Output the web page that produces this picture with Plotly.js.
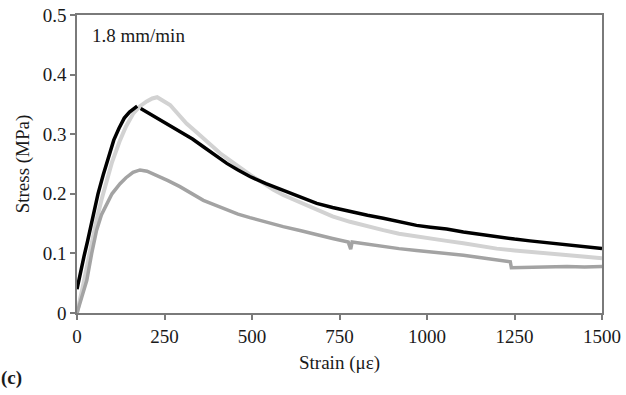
<!DOCTYPE html>
<html>
<head>
<meta charset="utf-8">
<script src="https://cdn.plot.ly/plotly-3.0.1.min.js"></script>
<style>
html,body{margin:0;padding:0;background:#fff;}
#wrap{position:relative;width:626px;height:395px;}
.lbl{position:absolute;font-family:'Liberation Serif';font-size:19px;line-height:22px;color:#1a1a1a;white-space:nowrap;z-index:5;}
#rate{left:92px;top:25px;}
#panel{left:1px;top:367px;font-weight:bold;}
#chart{position:absolute;left:0;top:0;width:626px;height:395px;}
</style>
</head>
<body>
<div id="wrap">
<div class="lbl" id="rate">1.8 mm/min</div>
<div class="lbl" id="panel">(c)</div>
<div id="chart"></div>
</div>
<script>
// Specimen curves (strain in microstrain, stress in MPa)
const blackX = [0,10,20,30,45,60,75,90,105,120,135,150,165,172,null,182,200,228,260,294,330,361,400,428,460,494,540,589,640,685,730,780,830,875,920,970,1010,1056,1104,1150,1199,1250,1294,1340,1390,1440,1500];
const blackY = [0.04,0.07,0.095,0.12,0.16,0.2,0.232,0.26,0.29,0.31,0.327,0.337,0.345,0.347,null,0.343,0.337,0.327,0.317,0.305,0.292,0.279,0.262,0.251,0.24,0.229,0.217,0.206,0.194,0.184,0.177,0.17,0.164,0.159,0.153,0.147,0.144,0.141,0.136,0.132,0.128,0.124,0.121,0.118,0.115,0.112,0.108];

const lightX = [0,5,15,28,42,56,70,85,100,123,140,161,180,199,215,229,245,266,290,313,340,361,385,409,435,456,494,530,560,589,640,685,730,780,830,875,920,970,1010,1056,1104,1150,1199,1250,1294,1340,1390,1440,1500];
const lightY = [0,0.012,0.04,0.077,0.118,0.156,0.19,0.223,0.253,0.29,0.313,0.335,0.347,0.355,0.36,0.362,0.357,0.349,0.333,0.318,0.304,0.293,0.28,0.268,0.257,0.248,0.232,0.219,0.207,0.198,0.185,0.173,0.162,0.153,0.145,0.139,0.133,0.128,0.124,0.121,0.117,0.112,0.108,0.105,0.103,0.1,0.098,0.095,0.092];

const grayX = [0,10,20,28,42,56,70,85,100,123,140,160,180,200,228,260,294,330,361,395,428,460,494,540,589,640,685,730,775,782,786,830,875,920,970,1010,1056,1104,1150,1199,1238,1241,1294,1350,1400,1450,1500];
const grayY = [0,0.02,0.04,0.055,0.1,0.139,0.165,0.184,0.2,0.217,0.227,0.236,0.24,0.238,0.231,0.222,0.212,0.2,0.189,0.181,0.173,0.166,0.16,0.152,0.145,0.138,0.131,0.125,0.119,0.107,0.119,0.115,0.111,0.108,0.105,0.103,0.1,0.097,0.093,0.089,0.086,0.076,0.077,0.077,0.078,0.077,0.078];

const xTicks = [0,250,500,750,1000,1250,1500];
const yTicks = [0,0.1,0.2,0.3,0.4,0.5];
const yTickText = ['0','0.1','0.2','0.3','0.4','0.5'];

const fam = 'Liberation Serif';
const ink = '#1a1a1a';

function build() {
  const traces = [
    {x: lightX, y: lightY, mode: 'lines', line: {color: '#d2d2d2', width: 4}, hoverinfo: 'skip'},
    {x: grayX, y: grayY, mode: 'lines', line: {color: '#a3a3a3', width: 3.5}, hoverinfo: 'skip'},
    {x: blackX, y: blackY, mode: 'lines', line: {color: '#000000', width: 3.5}, connectgaps: false, hoverinfo: 'skip'}
  ];
  const layout = {
    width: 626, height: 395,
    margin: {l: 77, r: 24, t: 15, b: 82},
    paper_bgcolor: 'rgba(0,0,0,0)', plot_bgcolor: 'rgba(0,0,0,0)',
    showlegend: false,
    font: {family: fam, size: 19, color: ink},
    xaxis: {
      range: [0, 1500], tickvals: xTicks, ticktext: xTicks.map(String),
      showgrid: false, zeroline: false,
      showline: true, linecolor: '#7a7a7a', linewidth: 1.5, mirror: true,
      ticks: 'outside', ticklen: 5, tickcolor: '#7a7a7a', tickwidth: 1.5,
      tickfont: {family: fam, size: 19, color: ink},
      title: {text: 'Strain (με)', font: {family: fam, size: 19, color: ink}, standoff: 10}
    },
    yaxis: {
      range: [0, 0.5], tickvals: yTicks, ticktext: yTickText,
      showgrid: false, zeroline: false,
      showline: true, linecolor: '#7a7a7a', linewidth: 1.5, mirror: true,
      ticks: 'outside', ticklen: 5, tickcolor: '#7a7a7a', tickwidth: 1.5,
      tickfont: {family: fam, size: 19, color: ink},
      title: {text: 'Stress (MPa)', font: {family: fam, size: 19, color: ink}, standoff: 8}
    }
  };
  return Plotly.newPlot('chart', traces, layout, {displayModeBar: false});
}

build();
if (document.fonts && document.fonts.ready) {
  document.fonts.ready.then(build).catch(function () {});
}
</script>
</body>
</html>
